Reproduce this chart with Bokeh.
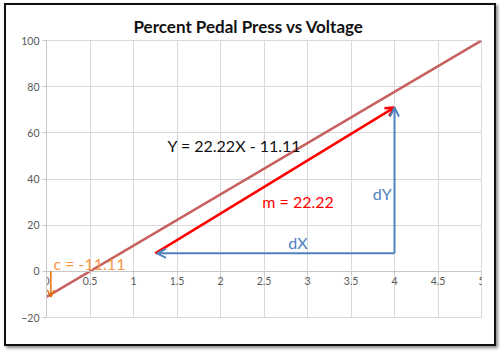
from bokeh.plotting import figure
from bokeh.layouts import column
from bokeh.models import Range1d, Arrow, OpenHead, Label, FixedTicker
from bokeh.embed import file_html
from bokeh.resources import INLINE

# ---- data ----
title_text = "Percent Pedal Press vs Voltage"
line_x = [0.0, 5.0]
line_y = [-11.11, 99.99]
x_ticks = [0, 0.5, 1, 1.5, 2, 2.5, 3, 3.5, 4, 4.5, 5]
y_ticks = [-20, 0, 20, 40, 60, 80, 100]

slope_start = (1.25, 7.8)
slope_end = (4.0, 71.0)
dx_start = (4.0, 7.8)
dx_end = (1.27, 7.8)
dy_start = (4.0, 7.8)
dy_end = (4.0, 71.0)
c_start = (0.05, 0.0)
c_end = (0.05, -11.11)

eq_label = ("Y = 22.22X - 11.11", 1.39, 54.5)
m_label = ("m = 22.22", 2.48, 30.3)
dy_label = ("dY", 3.75, 33.8)
dx_label = ("dX", 2.78, 12.5)
c_label = ("c = -11.11", 0.08, 3.5)

FONT = "Lato"

p = figure(width=488, height=339, output_backend="svg", toolbar_location=None,
           x_range=Range1d(0, 5), y_range=Range1d(-20, 100),
           min_border_left=40, min_border_right=13, min_border_top=35, min_border_bottom=27,
           title=title_text)
p.title.align = "left"
p.title.offset = 87
p.title.standoff = 8
p.title.text_font = FONT
p.title.text_font_size = "17px"
p.title.text_font_style = "bold"
p.title.text_color = "#111111"

p.background_fill_color = "white"
p.border_fill_color = "white"
p.outline_line_color = "#d9d9d9"

# axes
xa = p.xaxis[0]
xa.fixed_location = 0
xa.ticker = FixedTicker(ticks=x_ticks)
xa.axis_line_color = "#c8c8c8"
xa.major_tick_line_color = "#c8c8c8"
xa.major_tick_out = 3
xa.major_tick_in = 0
xa.minor_tick_line_color = None
xa.major_label_text_font_size = "10.5px"
xa.major_label_text_color = "#595959"
xa.major_label_text_font = FONT
xa.major_label_standoff = 3

ya = p.yaxis[0]
ya.ticker = FixedTicker(ticks=y_ticks)
ya.axis_line_color = "#c8c8c8"
ya.major_tick_line_color = "#c8c8c8"
ya.major_tick_out = 4
ya.major_tick_in = 0
ya.minor_tick_line_color = None
ya.major_label_text_font_size = "10.5px"
ya.major_label_text_color = "#595959"
ya.major_label_text_font = FONT
ya.major_label_standoff = 3

p.xgrid.ticker = FixedTicker(ticks=x_ticks)
p.ygrid.ticker = FixedTicker(ticks=y_ticks)
p.xgrid.grid_line_color = "#d9d9d9"
p.ygrid.grid_line_color = "#d9d9d9"

# trend line
p.line(line_x, line_y, line_color="#C0504D", line_width=2.5, line_alpha=0.9)

def add_arrow(start, end, color, width, size):
    p.add_layout(Arrow(end=OpenHead(size=size, line_color=color, line_width=width),
                       x_start=start[0], y_start=start[1], x_end=end[0], y_end=end[1],
                       line_color=color, line_width=width))

add_arrow(slope_start, slope_end, "#FF0000", 2.5, 9)
add_arrow(dx_start, dx_end, "#4F81BD", 2, 9)
add_arrow(dy_start, dy_end, "#4F81BD", 2, 9)
add_arrow(c_start, c_end, "#E46C0A", 1.5, 7)

def add_label(spec, color, size):
    t, x, y = spec
    p.add_layout(Label(text=t, x=x, y=y, text_color=color, text_font=FONT,
                       text_font_size=size, text_baseline="middle", text_align="left"))

add_label(eq_label, "#111111", "16px")
add_label(m_label, "#FF0000", "16px")
add_label(dy_label, "#4F81BD", "16px")
add_label(dx_label, "#4F81BD", "16px")
add_label(c_label, "#F79646", "16px")

layout = column(p, styles={"border": "2px solid #111111",
                           "box-shadow": "2px 2px 3px #888888",
                           "margin-left": "4px", "margin-top": "3px"})

open("out.html", "w").write(file_html(layout, INLINE))
